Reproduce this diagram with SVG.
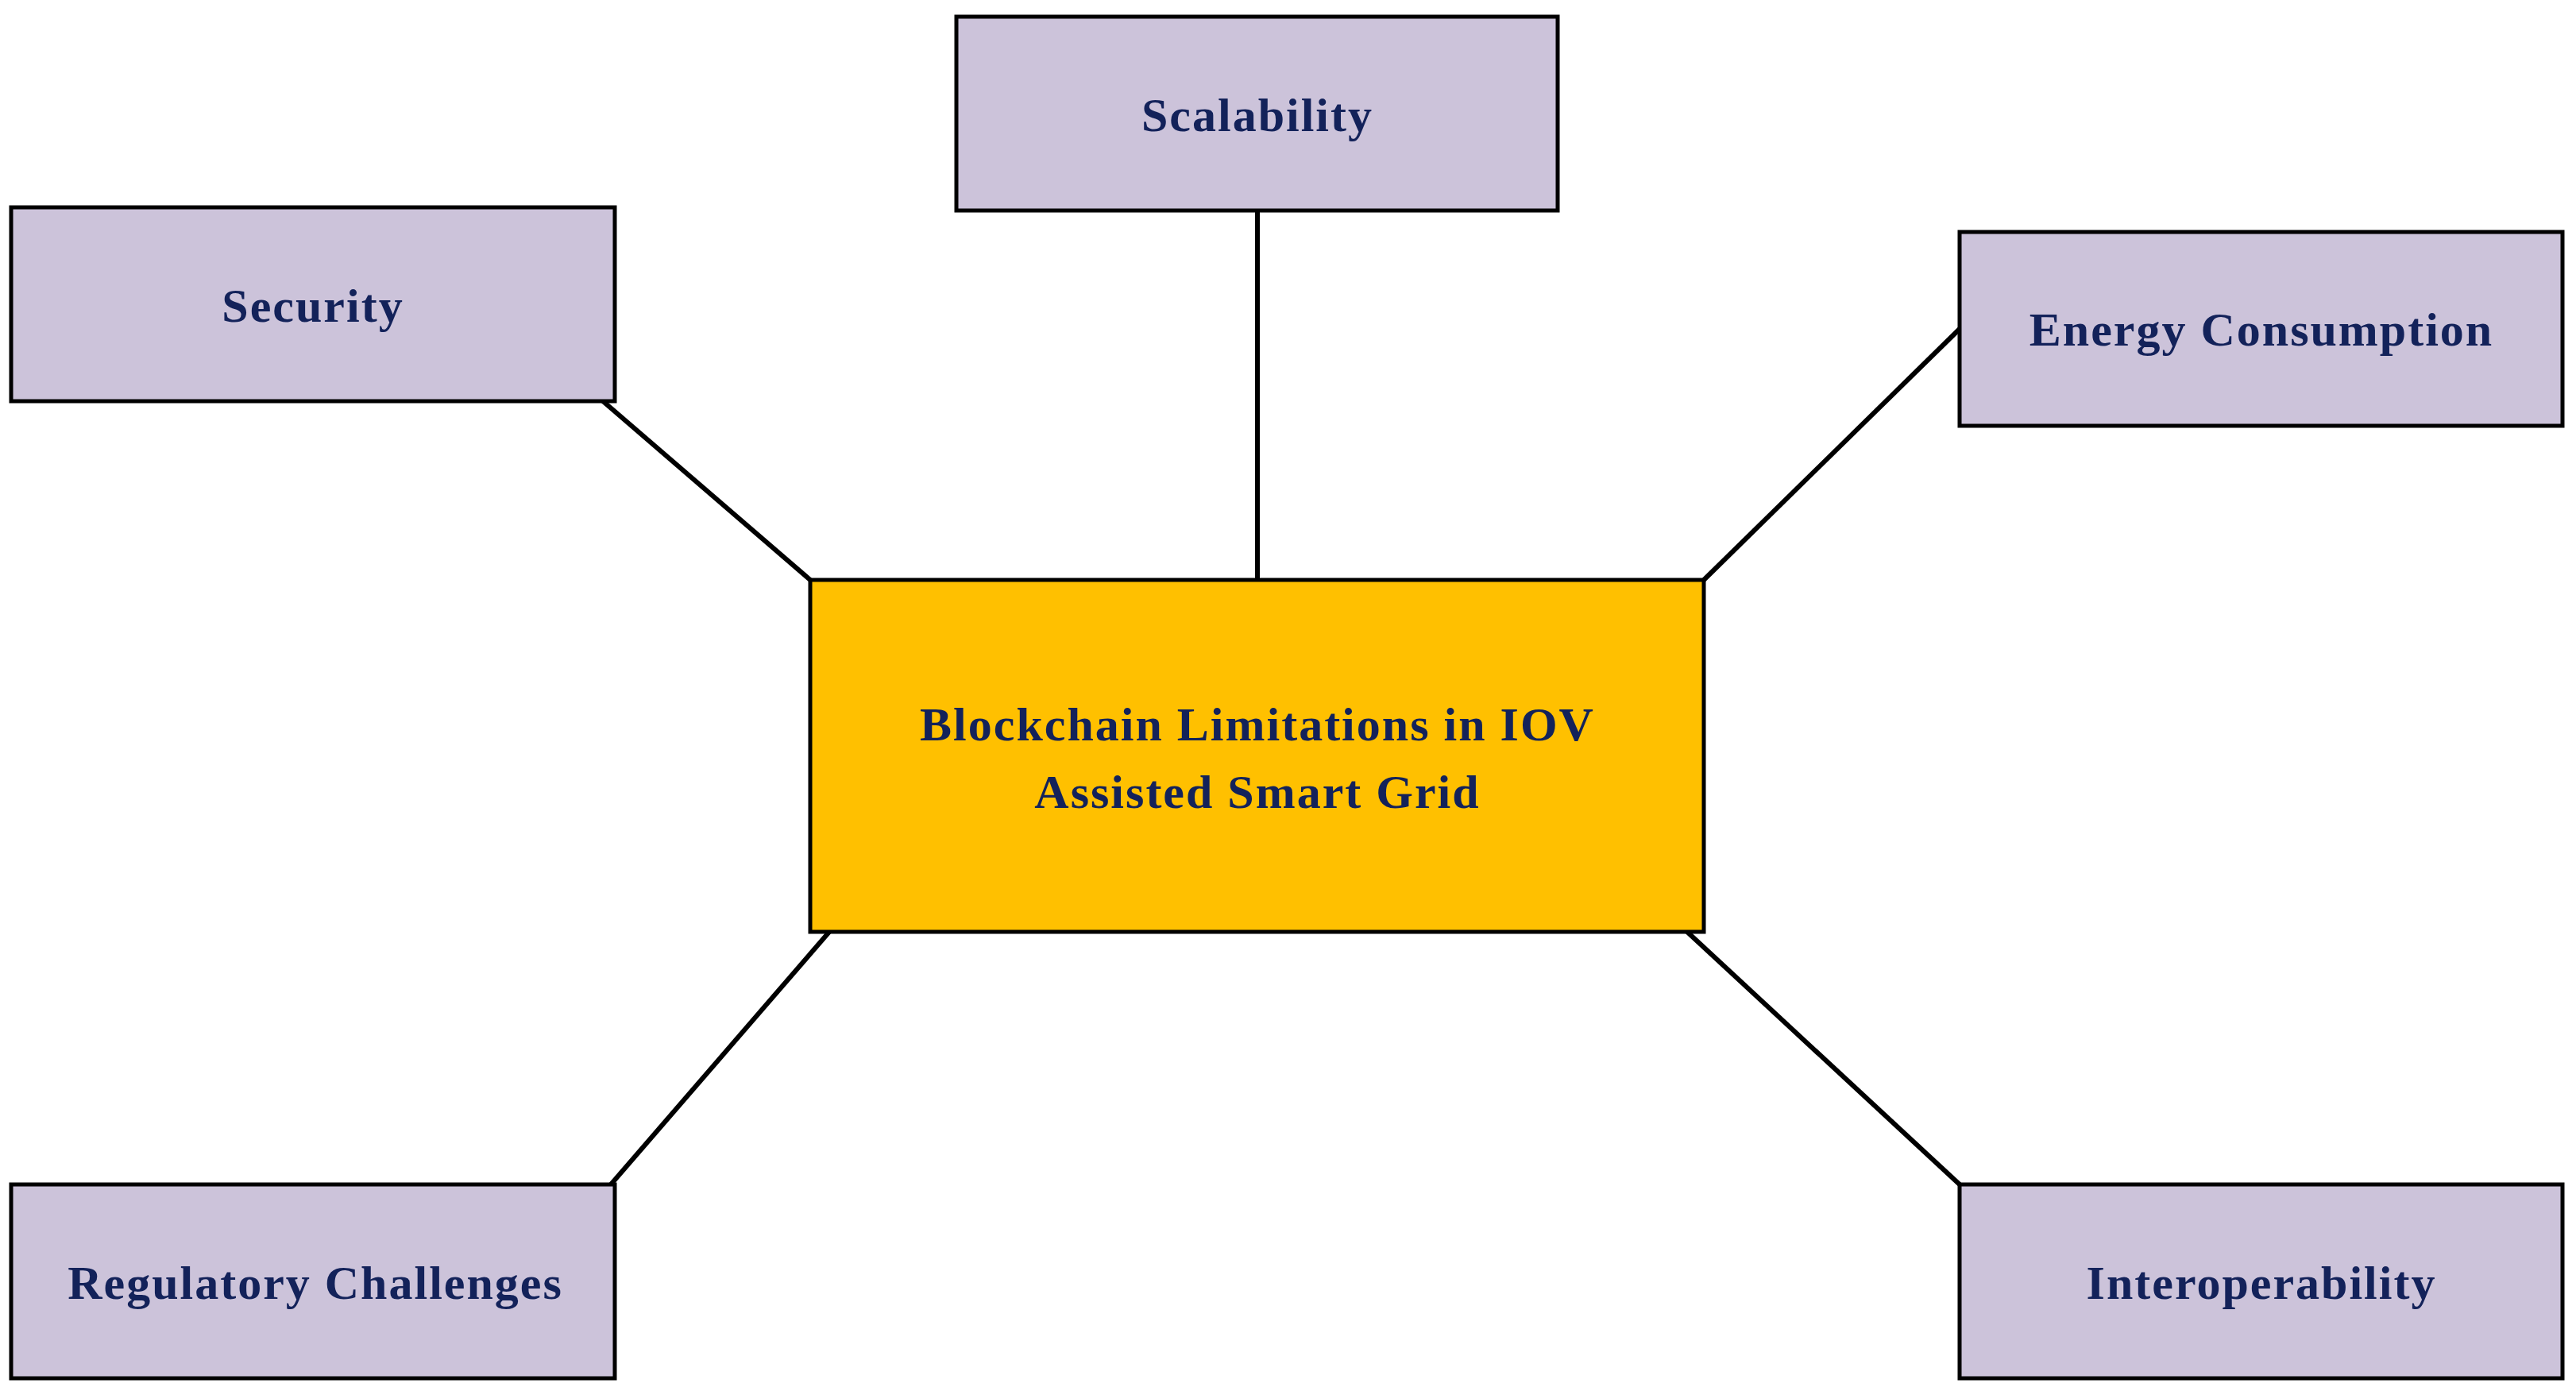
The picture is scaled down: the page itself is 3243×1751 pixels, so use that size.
<svg xmlns="http://www.w3.org/2000/svg" width="3243" height="1751" viewBox="0 0 3243 1751">
<style>
.b{fill:#CCC3DA;stroke:#000;stroke-width:5}
.c{fill:#FFC000;stroke:#000;stroke-width:5}
.t{font-family:"Liberation Serif",serif;font-weight:bold;font-size:60px;fill:#13225A;text-anchor:middle;dominant-baseline:central;letter-spacing:2px}
#connectors line{stroke:#000;stroke-width:6}
</style>
<rect width="3243" height="1751" fill="#fff"/>
<g id="connectors">
<line x1="1583" y1="265" x2="1583" y2="730"/>
<line x1="759" y1="505" x2="1020" y2="730"/>
<line x1="2467" y1="414" x2="2145" y2="730"/>
<line x1="769" y1="1491" x2="1044" y2="1173"/>
<line x1="2467" y1="1491" x2="2124" y2="1173"/>
</g>
<g id="center"><rect class="c" x="1020" y="730" width="1125" height="443"/>
<text class="t" x="1583" y="912">Blockchain Limitations in IOV</text>
<text class="t" x="1583" y="997">Assisted Smart Grid</text></g>
<g id="scalability"><rect class="b" x="1204" y="21" width="757" height="244"/><text class="t" x="1583" y="145">Scalability</text></g>
<g id="security"><rect class="b" x="14" y="261" width="760" height="244"/><text class="t" x="394" y="385">Security</text></g>
<g id="energy"><rect class="b" x="2467" y="292" width="759" height="244"/><text class="t" x="2847" y="415">Energy Consumption</text></g>
<g id="regulatory"><rect class="b" x="14" y="1491" width="760" height="244"/><text class="t" x="397" y="1615">Regulatory Challenges</text></g>
<g id="interop"><rect class="b" x="2467" y="1491" width="759" height="244"/><text class="t" x="2847" y="1615">Interoperability</text></g>
</svg>
